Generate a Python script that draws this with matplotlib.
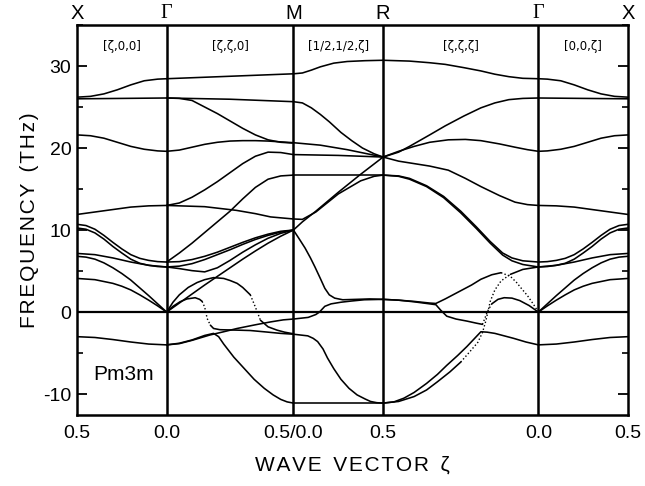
import matplotlib
matplotlib.use("Agg")
import matplotlib.pyplot as plt
from matplotlib.ticker import MultipleLocator

# ---------------- data ----------------
kpoint_pos = [0.0, 0.5, 1.2071, 1.7071, 2.5731, 3.0731]
top_labels = ["X", "\u0393", "M", "R", "\u0393", "X"]
bottom_labels = ["0.5", "0.0", "0.5/0.0", "0.5", "0.0", "0.5"]
direction_labels = ["[\u03b6,0,0]", "[\u03b6,\u03b6,0]", "[1/2,1/2,\u03b6]", "[\u03b6,\u03b6,\u03b6]", "[0,0,\u03b6]"]
yticks_major = [-10, 0, 10, 20, 30]

# Each branch: (fraction along segment, frequency THz)
# X -> Gamma  (also used mirrored for Gamma -> X)
seg_XG = [
    ([0, .15, .3, .45, .6, .75, .9, 1], [26.2, 26.3, 26.6, 27.1, 27.7, 28.2, 28.4, 28.45]),
    ([0, .5, 1], [26.0, 26.05, 26.1]),
    ([0, .15, .3, .45, .6, .75, .9, 1], [21.6, 21.5, 21.2, 20.7, 20.2, 19.85, 19.65, 19.6]),
    ([0, .2, .4, .6, .8, 1], [11.9, 12.2, 12.5, 12.8, 12.95, 13.0]),
    ([0, .1, .2, .3, .4, .5, .6, .7, .8, .9, 1], [10.7, 10.55, 10.1, 9.35, 8.5, 7.7, 7.0, 6.55, 6.3, 6.15, 6.1]),
    ([0, .1, .2, .3, .4, .5, .6, .7, .8, .9, 1], [10.25, 10.1, 9.65, 8.9, 8.0, 7.2, 6.45, 5.95, 5.7, 5.55, 5.5]),
    ([0, .2, .4, .6, .8, 1], [7.15, 7.0, 6.6, 6.1, 5.7, 5.5]),
    ([0, .1, .2, .3, .4, .5, .6, .7, .8, .9, 1], [6.8, 6.7, 6.45, 6.0, 5.4, 4.7, 3.9, 2.95, 2.0, 1.0, 0.0]),
    ([0, .2, .4, .5, .6, .7, .8, .9, 1], [4.1, 3.95, 3.5, 3.15, 2.7, 2.1, 1.45, 0.75, 0.0]),
    ([0, .2, .4, .6, .8, 1], [-3.0, -3.1, -3.35, -3.65, -3.9, -4.0]),
]

# Gamma -> M
seg_GM = [
    ([0, .5, 1], [28.45, 28.75, 29.05]),
    ([0, .5, 1], [26.1, 25.95, 25.65]),
    ([0, .1, .2, .3, .4, .5, .6, .7, .8, .9, 1], [26.1, 26.05, 25.8, 25.0, 24.2, 23.3, 22.4, 21.6, 21.0, 20.7, 20.6]),
    ([0, .1, .2, .3, .4, .5, .6, .7, .8, .9, 1], [19.6, 19.75, 20.1, 20.45, 20.7, 20.85, 20.9, 20.9, 20.85, 20.75, 20.65]),
    ([0, .1, .2, .3, .4, .5, .6, .7, .8, .9, 1], [13.0, 13.3, 14.0, 14.9, 15.9, 17.0, 18.1, 19.0, 19.5, 19.45, 19.2]),
    ([0, .3, .55, .7, .82, 1], [13.0, 12.85, 12.4, 12.0, 11.6, 11.35]),
    ([0, .1, .2, .3, .4, .5, .6, .7, .8, .9, 1], [6.1, 7.2, 8.4, 9.7, 11.0, 12.3, 13.8, 15.2, 16.2, 16.6, 16.7]),
    ([0, .1, .2, .3, .4, .5, .6, .7, .8, .9, 1], [6.1, 6.15, 6.4, 6.8, 7.3, 7.9, 8.5, 9.05, 9.5, 9.85, 10.0]),
    ([0, .1, .2, .3, .4, .5, .6, .7, .8, .9, 1], [5.5, 5.6, 5.9, 6.4, 7.0, 7.6, 8.25, 8.85, 9.35, 9.75, 10.0]),
    ([0, .1, .2, .3, .4, .5, .6, .7, .8, .9, 1], [5.5, 5.3, 5.05, 4.9, 5.4, 6.3, 7.3, 8.2, 9.0, 9.6, 10.0]),
    ([0, .1, .2, .3, .4, .5, .6, .7, .8, .9, 1], [0.0, 1.1, 2.2, 3.3, 4.35, 5.4, 6.45, 7.45, 8.4, 9.25, 10.0]),
    ([0, .05, .1, .17, .24, .3, .37, .45, .5, .556, .6, .66, .70, .74, .8, .87, .93, 1],
     [0.0, 1.2, 2.1, 3.0, 3.6, 3.95, 4.2, 4.1, 3.85, 3.5, 3.0, 2.1, 0.6, -1.0, -1.8, -2.2, -2.45, -2.65]),
    ([0, .05, .106, .16, .225, .26, .28, .30, .32, .345, .37, .42, .55, .66, .8, .9, 1],
     [0.0, 0.7, 1.26, 1.6, 1.75, 1.55, 1.3, 0.6, -0.8, -1.6, -2.0, -2.15, -2.2, -2.25, -2.45, -2.6, -2.7]),
    ([0, .1, .2, .34, .45, .556, .7, .82, .92, 1], [-4.0, -3.85, -3.45, -2.8, -2.4, -2.0, -1.55, -1.2, -0.95, -0.85]),
    ([0, .1, .2, .3, .37, .41, .45, .53, .61, .69, .77, .84, .9, .95, 1],
     [-4.0, -3.8, -3.4, -2.85, -2.6, -3.0, -3.9, -5.5, -6.85, -8.2, -9.3, -10.1, -10.65, -10.95, -11.1]),
]

# M -> R
seg_MR = [
    ([0, .1, .2, .3, .45, .6, .8, 1], [29.05, 29.15, 29.5, 29.9, 30.35, 30.55, 30.65, 30.7]),
    ([0, .1, .2, .3, .4, .53, .65, .77, .9, 1], [25.65, 25.5, 24.9, 24.1, 23.2, 21.9, 20.9, 20.0, 19.3, 18.9]),
    ([0, .3, .6, .8, 1], [20.65, 20.35, 19.8, 19.35, 18.9]),
    ([0, .5, 1], [19.2, 19.1, 18.9]),
    ([0, 1], [16.7, 16.7]),
    ([0, .1, .25, .5, .75, 1], [10.0, 11.0, 12.3, 14.6, 16.8, 18.9]),
    ([0, .1, .25, .5, .75, .9, 1], [11.35, 11.3, 12.2, 14.4, 16.0, 16.55, 16.7]),
    ([0, .06, .13, .19, .24, .3, .35, .4, .46, .55, .7, .85, 1],
     [10.0, 9.0, 7.8, 6.6, 5.5, 4.1, 2.9, 2.1, 1.7, 1.5, 1.55, 1.6, 1.55]),
    ([0, .165, .25, .29, .32, .35, .42, .53, .65, .79, 1],
     [-0.85, -0.65, -0.3, 0.0, 0.35, 0.7, 1.0, 1.2, 1.35, 1.5, 1.55]),
    ([0, .16, .22, .27, .33, .38, .45, .53, .62, .71, .8, .86, .93, 1],
     [-2.7, -2.9, -3.2, -3.6, -4.5, -5.6, -6.9, -8.2, -9.3, -10.1, -10.6, -10.9, -11.05, -11.1]),
    ([0, 1], [-11.1, -11.1]),
]

# R -> Gamma
seg_RG = [
    ([0, .17, .3, .4, .52, .63, .72, .81, .9, 1], [30.7, 30.6, 30.4, 30.2, 29.8, 29.4, 29.0, 28.7, 28.5, 28.45]),
    ([0, .1, .17, .3, .4, .52, .63, .72, .81, .9, 1], [18.9, 19.5, 20.2, 21.6, 22.7, 23.9, 24.9, 25.5, 25.9, 26.05, 26.1]),
    ([0, .1, .2, .3, .42, .53, .63, .75, .85, .93, 1], [18.9, 19.6, 20.2, 20.7, 21.0, 21.05, 20.9, 20.5, 20.1, 19.8, 19.6]),
    ([0, .1, .2, .3, .42, .53, .63, .75, .85, .93, 1], [18.9, 18.4, 18.1, 17.8, 17.3, 16.3, 15.3, 14.2, 13.4, 13.1, 13.0]),
    ([0, .1, .17, .28, .39, .5, .6, .69, .77, .83, .9, 1], [16.7, 16.6, 16.3, 15.4, 14.1, 12.3, 10.4, 8.6, 7.2, 6.6, 6.25, 6.1]),
    ([0, .1, .17, .28, .39, .5, .6, .69, .77, .83, .9, 1], [16.7, 16.55, 16.2, 15.3, 13.95, 12.1, 10.2, 8.4, 6.95, 6.25, 5.8, 5.5]),
    ([0, .1, .2, .3, .34, .4, .5, .57, .63, .7, .76, .82, .86, .89, .93, .97, 1],
     [1.55, 1.45, 1.3, 1.1, 1.05, 1.6, 2.6, 3.3, 4.0, 4.55, 4.8, 4.35, 3.6, 2.9, 2.0, 0.9, 0.0]),
    ([0, .1, .2, .3, .34, .37, .41, .47, .54, .6, .64, .655, .67, .7, .74, .78, .83, .88, .94, 1],
     [1.55, 1.45, 1.25, 1.0, 0.9, 0.25, -0.5, -0.85, -1.1, -1.35, -1.5, -0.8, 0.0, 1.0, 1.55, 1.75, 1.7, 1.4, 0.8, 0.0]),
    ([0, .07, .134, .2, .28, .35, .41, .48, .54, .59, .63, .67, .72, .84, .92, 1],
     [-11.1, -10.95, -10.5, -9.8, -8.7, -7.6, -6.5, -5.3, -4.2, -3.2, -2.4, -2.45, -2.6, -3.2, -3.65, -4.0]),
    ([0, .1, .2, .28, .35, .43, .5, .56, .61, .64, .66, .675, .69, .72, .76, .82, .9, 1],
     [-11.1, -10.9, -10.3, -9.5, -8.5, -7.3, -6.1, -4.8, -3.7, -2.5, -1.2, 0.0, 1.3, 2.7, 3.8, 4.6, 5.2, 5.5]),
]

# parts of branches drawn dotted in the original: (segment, branch) -> (t_start, t_end)
dotted_parts = {
    (1, 11): (0.66, 0.74),
    (1, 12): (0.28, 0.345),
    (3, 6): (0.76, 1.0),
    (3, 7): (0.64, 0.70),
    (3, 9): (0.50, 0.82),
}

segments = [seg_XG, seg_GM, seg_MR, seg_RG, seg_XG]
reverse_segment = [False, False, False, False, True]

# ---------------- figure ----------------
plt.rcParams['font.family'] = ['Liberation Sans', 'DejaVu Sans']
fig = plt.figure(figsize=(6.45, 4.86), dpi=100)
ax = fig.add_axes([77/645, 1-415/486, (628-77)/645, (415-25)/486])


def draw(x, f, dotted=False):
    if dotted:
        ax.plot(x, f, color='black', lw=1.0, linestyle=(0, (1.0, 1.6)))
    else:
        ax.plot(x, f, color='black', lw=1.15, solid_capstyle='round', solid_joinstyle='round')


for i, seg in enumerate(segments):
    k0, k1 = kpoint_pos[i], kpoint_pos[i+1]
    for j, (t, f) in enumerate(seg):
        if reverse_segment[i]:
            x = [k1 - tt*(k1-k0) for tt in t]
        else:
            x = [k0 + tt*(k1-k0) for tt in t]
        if (i, j) in dotted_parts:
            a, b = dotted_parts[(i, j)]
            ia = min(range(len(t)), key=lambda n: abs(t[n]-a))
            ib = min(range(len(t)), key=lambda n: abs(t[n]-b))
            draw(x[:ia+1], f[:ia+1])
            draw(x[ia:ib+1], f[ia:ib+1], dotted=True)
            if ib < len(t)-1:
                draw(x[ib:], f[ib:])
        else:
            draw(x, f)

for kp in kpoint_pos[1:-1]:
    ax.axvline(kp, color='black', lw=1.8)
ax.axhline(0, color='black', lw=1.6)

ax.set_xlim(kpoint_pos[0], kpoint_pos[-1])
ax.set_ylim(-12.55, 35)

for s in ax.spines.values():
    s.set_linewidth(1.8)

ax.set_xticks(kpoint_pos)
ax.set_xticklabels(bottom_labels, fontsize=14)
ax.tick_params(axis='x', length=0, pad=7)

ax.set_yticks(yticks_major)
ax.set_yticklabels([str(v) for v in yticks_major], fontsize=14)
ax.yaxis.set_minor_locator(MultipleLocator(5))
ax.tick_params(axis='y', which='major', direction='in', length=7, width=1.3, right=True, pad=4)
ax.tick_params(axis='y', which='minor', direction='in', length=4.5, width=1.2, right=True)

for kp, lab in zip(kpoint_pos, top_labels):
    fam = ['Liberation Serif'] if lab == "\u0393" else ['Liberation Sans']
    ax.text(kp, 1.006, lab, transform=ax.get_xaxis_transform(), ha='center', va='bottom',
            fontsize=14.5, family=fam)

for i, lab in enumerate(direction_labels):
    xc = 0.5*(kpoint_pos[i] + kpoint_pos[i+1])
    ax.text(xc, 32.4, lab, ha='center', va='center', fontsize=8.5, family=['DejaVu Sans'])

ax.text(0.09, -7.6, "Pm3m", ha='left', va='center', fontsize=15)

hs = "\u200a"
xlab = hs.join("WAVE") + "  " + hs.join("VECTOR") + "  \u03b6"
ylab = hs.join("FREQUENCY") + "  " + hs.join("(THz)")
ax.set_xlabel(xlab, fontsize=15, labelpad=10)
ax.set_ylabel(ylab, fontsize=15, labelpad=3)

fig.savefig("out.png", dpi=100)
